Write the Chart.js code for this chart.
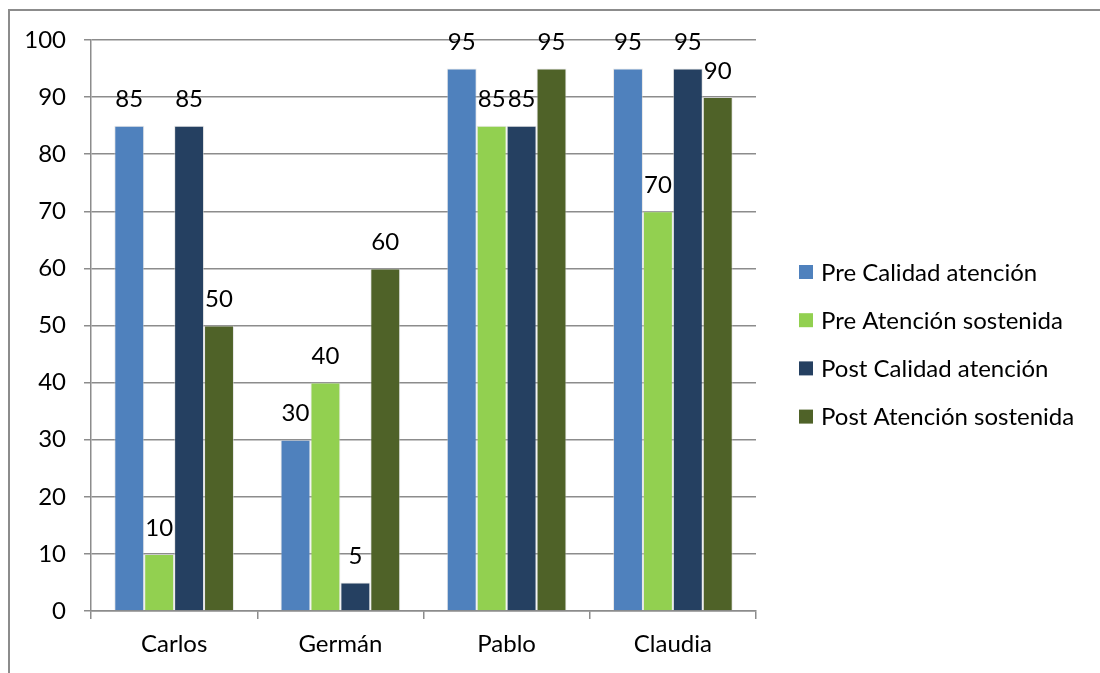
<!DOCTYPE html>
<html>
<head>
<meta charset="utf-8">
<script src="https://cdn.jsdelivr.net/npm/chart.js@4/dist/chart.umd.min.js"></script>
<style>
  html, body { margin: 0; padding: 0; background: #fff; overflow: hidden; }
  #wrap { position: relative; width: 1100px; height: 673px; }
  #frame { position: absolute; left: 8px; top: 9px; width: 1200px; height: 900px;
           border: 2px solid #8c8c8c; box-sizing: border-box; }
  canvas { position: absolute; left: 0; top: 0; }
</style>
</head>
<body>
<div id="wrap">
  <div id="frame"></div>
  <canvas id="c" width="1100" height="673"></canvas>
</div>
<script>
// Students and their attention scores before and after
const categories = ['Carlos', 'Germán', 'Pablo', 'Claudia'];
const preCalidad = [85, 30, 95, 95];
const preSostenida = [10, 40, 85, 70];
const postCalidad = [85, 5, 85, 95];
const postSostenida = [50, 60, 95, 90];
const seriesNames = ['Pre Calidad atención', 'Pre Atención sostenida', 'Post Calidad atención', 'Post Atención sostenida'];
const yTicks = [0, 10, 20, 30, 40, 50, 60, 70, 80, 90, 100];

const colors = ['#4F81BD', '#92D050', '#254061', '#4F6228'];
const FONT = 'Lato, "Open Sans", sans-serif';
const FSIZE = 24;
const GRID = '#8c8c8c';

const seriesValues = [preCalidad, preSostenida, postCalidad, postSostenida];

// Value labels above each bar
const valueLabels = {
  id: 'valueLabels',
  afterDatasetsDraw(chart) {
    const ctx = chart.ctx;
    ctx.save();
    ctx.font = FSIZE + 'px ' + FONT;
    ctx.fillStyle = '#000';
    ctx.textAlign = 'center';
    ctx.textBaseline = 'middle';
    chart.data.datasets.forEach((ds, i) => {
      chart.getDatasetMeta(i).data.forEach((bar, j) => {
        ctx.fillText(String(ds.data[j]), bar.x, bar.y - 26);
      });
    });
    ctx.restore();
  }
};

// Legend to the right of the plot
const sideLegend = {
  id: 'sideLegend',
  afterDraw(chart) {
    const ctx = chart.ctx;
    const x0 = 799, y0 = 272, step = 48.2, box = 14;
    ctx.save();
    ctx.font = FSIZE + 'px ' + FONT;
    ctx.textAlign = 'left';
    ctx.textBaseline = 'middle';
    chart.data.datasets.forEach((ds, i) => {
      const cy = y0 + i * step;
      ctx.fillStyle = ds.backgroundColor;
      ctx.fillRect(x0, cy - box / 2, box, box);
      ctx.fillStyle = '#000';
      ctx.fillText(ds.label, x0 + box + 8, cy + 1);
    });
    ctx.restore();
  }
};

new Chart(document.getElementById('c'), {
  type: 'bar',
  data: {
    labels: categories,
    datasets: seriesValues.map((vals, i) => ({
      label: seriesNames[i],
      data: vals,
      backgroundColor: colors[i],
      borderColor: 'rgba(210,210,210,0.55)',
      borderWidth: 1,
      categoryPercentage: 0.72,
      barPercentage: 1.0
    }))
  },
  options: {
    responsive: false,
    animation: false,
    devicePixelRatio: 1,
    layout: { padding: { top: 40, right: 344, left: 0, bottom: 0 } },
    plugins: { legend: { display: false }, tooltip: { enabled: false } },
    scales: {
      x: {
        afterFit(scale) { scale.height = 62; },
        grid: { drawOnChartArea: false, drawTicks: true, tickLength: 8, color: GRID, lineWidth: 1.5 },
        border: { color: GRID, width: 1.5 },
        ticks: { color: '#000', font: { family: FONT, size: FSIZE }, padding: 11 }
      },
      y: {
        min: 0, max: 100,
        afterFit(scale) { scale.width = 91; },
        afterBuildTicks(scale) { scale.ticks = yTicks.map(v => ({ value: v })); },
        grid: { color: GRID, lineWidth: 1.5, tickLength: 7 },
        border: { color: GRID, width: 1.5 },
        ticks: { color: '#000', font: { family: FONT, size: FSIZE }, padding: 18 }
      }
    }
  },
  plugins: [valueLabels, sideLegend]
});
</script>
</body>
</html>
